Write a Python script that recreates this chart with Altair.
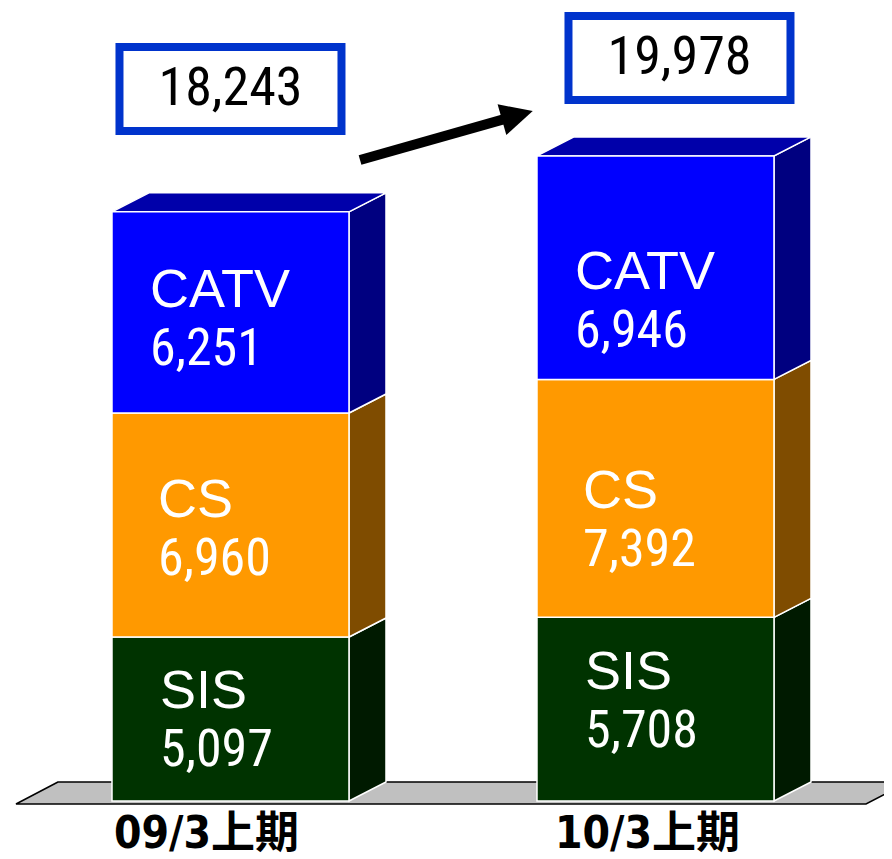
import math
import altair as alt
import pandas as pd

# ---- data ----
categories = ["09/3上期", "10/3上期"]
segments = ["SIS", "CS", "CATV"]
sis = [5097, 5708]
cs = [6960, 7392]
catv = [6251, 6946]
totals = [18243, 19978]

# ---- styling / layout ----
front_colors = {"SIS": "#003300", "CS": "#FF9900", "CATV": "#0000FF"}
side_colors = {"SIS": "#001A00", "CS": "#7F4C00", "CATV": "#000080"}
top_color = "#0000AA"
box_color = "#0033CC"
lab_off_px = {"SIS": 48, "CS": 46, "CATV": 38}
lab_nudge_px = [{"SIS": 6, "CS": 3, "CATV": 0}, {"SIS": 15, "CS": -15, "CATV": -26}]  # + = up
box_lift_px = [125, 100]     # box centre above bar top
box_shift_px = [0, 24]       # box centre right of bar centre
cat_shift_px = [-24, -8]     # category label offset from bar centre

W, H = 876, 851
XPX = 425.0      # px per category step
YPX = 0.03218    # px per value unit
BASE_PX = 793    # plot-y of value 0
x_dom = [-0.5235, -0.5235 + W / XPX]
y_dom = [-(H - BASE_PX) / YPX, BASE_PX / YPX]

HALF = 118.5 / XPX
DX = 37 / XPX
DY = 19 / YPX

front, side, top, labs = [], [], [], []
for i, cat in enumerate(categories):
    vals = {"SIS": sis[i], "CS": cs[i], "CATV": catv[i]}
    base = 0
    xl, xr = i - HALF, i + HALF
    for seg in segments:
        v = vals[seg]
        lo, hi = base, base + v
        front.append(dict(x=xl, x2=xr, y=lo, y2=hi, fill=front_colors[seg]))
        face = f"{i}-{seg}"
        side.append(dict(face=face, x=xr, y=lo, y2=hi, fill=side_colors[seg]))
        side.append(dict(face=face, x=xr + DX, y=lo + DY, y2=hi + DY, fill=side_colors[seg]))
        labs.append(dict(x=xl + lab_off_px[seg] / XPX,
                         y=(lo + hi) / 2 + lab_nudge_px[i][seg] / YPX,
                         name=seg, value=f"{v:,}"))
        base = hi
    top.append(dict(face=str(i), y=base, x=xl, x2=xr))
    top.append(dict(face=str(i), y=base + DY, x=xl + DX, x2=xr + DX))

floor_front, floor_back = -3 / YPX, 19 / YPX
floor_l, floor_r, floor_dx = -0.5047, 1.4953, 42 / XPX
floor = pd.DataFrame([
    dict(y=floor_front, x=floor_l, x2=floor_r),
    dict(y=floor_back, x=floor_l + floor_dx, x2=floor_r + floor_dx),
])

# total boxes
BW, BH = 222 / XPX, 84 / YPX
box_rows = []
for i, t in enumerate(totals):
    cx, cy = i + box_shift_px[i] / XPX, t + box_lift_px[i] / YPX
    box_rows.append(dict(x=cx - BW / 2, x2=cx + BW / 2, y=cy - BH / 2, y2=cy + BH / 2,
                         cx=cx, cy=cy, label=f"{t:,}"))
boxes = pd.DataFrame(box_rows)

# arrow between the bars
ax, ay = HALF + 0.026, totals[0] + 1676
tx, ty = 1 - HALF - 0.01, totals[1] + 1464
sdx, sdy = (tx - ax) * XPX, -(ty - ay) * YPX
L = math.hypot(sdx, sdy)
ux, uy = sdx / L, sdy / L
HEAD = 32
cxh = tx - ux * HEAD / 2 / XPX
cyh = ty + uy * HEAD / 2 / YPX
angle = math.degrees(math.atan2(sdy, sdx)) % 360
arrow_line = pd.DataFrame([dict(x=ax, y=ay), dict(x=cxh, y=cyh)])
arrow_head = pd.DataFrame([dict(x=cxh, y=cyh)])

cat_df = pd.DataFrame(dict(x=[i + cat_shift_px[i] / XPX for i in range(len(categories))],
                           y=[-(835 - 801) / YPX] * len(categories), label=categories))

X = lambda f="x": alt.X(f"{f}:Q", scale=alt.Scale(domain=x_dom, nice=False, zero=False), axis=None)
Y = lambda f="y": alt.Y(f"{f}:Q", scale=alt.Scale(domain=y_dom, nice=False, zero=False), axis=None)

floor_layer = alt.Chart(floor).mark_area(orient="horizontal", fill="#C0C0C0", stroke="black",
                                         strokeWidth=1.5, clip=True).encode(
    y=Y(), x=X(), x2="x2:Q")

side_layer = alt.Chart(pd.DataFrame(side)).mark_area(stroke="white", strokeWidth=1.5).encode(
    x=X(), y=Y(), y2="y2:Q", detail="face:N", fill=alt.Fill("fill:N", scale=None))

top_layer = alt.Chart(pd.DataFrame(top)).mark_area(orient="horizontal", fill=top_color,
                                                   stroke="white", strokeWidth=1.5).encode(
    y=Y(), x=X(), x2="x2:Q", detail="face:N")

front_layer = alt.Chart(pd.DataFrame(front)).mark_rect(stroke="white", strokeWidth=1.5).encode(
    x=X(), x2="x2:Q", y=Y(), y2="y2:Q", fill=alt.Fill("fill:N", scale=None))

lab_df = pd.DataFrame(labs)
name_layer = alt.Chart(lab_df).mark_text(align="left", baseline="middle", dy=-21, color="white",
                                         font="Liberation Sans", fontSize=54).encode(
    x=X(), y=Y(), text="name:N")
value_layer = alt.Chart(lab_df).mark_text(align="left", baseline="middle", dy=37, color="white",
                                          font="Liberation Sans Narrow, Roboto Condensed, DejaVu Sans Condensed, sans-serif",
                                          fontSize=52).encode(
    x=X(), y=Y(), text="value:N")

box_layer = alt.Chart(boxes).mark_rect(fill="white", stroke=box_color, strokeWidth=8).encode(
    x=X(), x2="x2:Q", y=Y(), y2="y2:Q")
box_text = alt.Chart(boxes).mark_text(align="center", baseline="middle", color="black",
                                      font="Liberation Sans Narrow, Roboto Condensed, DejaVu Sans Condensed, sans-serif",
                                      fontSize=54).encode(
    x=X("cx"), y=Y("cy"), text="label:N")

arrow_l = alt.Chart(arrow_line).mark_line(color="black", strokeWidth=10, strokeCap="butt").encode(
    x=X(), y=Y())
arrow_h = alt.Chart(arrow_head).mark_point(shape="M 1 0 L -1 -1 L -1 1 Z", filled=True, fill="black",
                                           opacity=1, strokeWidth=0, size=HEAD * HEAD, angle=angle).encode(
    x=X(), y=Y())

cat_layer = alt.Chart(cat_df).mark_text(align="center", baseline="middle", color="black",
                                        font="DejaVu Sans Condensed, Noto Sans CJK JP", fontWeight="bold",
                                        fontSize=44).encode(
    x=X(), y=Y(), text="label:N")

chart = alt.layer(
    floor_layer, side_layer, top_layer, front_layer, name_layer, value_layer,
    box_layer, box_text, arrow_l, arrow_h, cat_layer
).properties(
    width=W, height=H, padding=0, autosize=alt.AutoSizeParams(type="none"),
    background="white"
).configure_view(stroke=None)

chart.save("out.html", embed_options={"renderer": "svg", "actions": False})
